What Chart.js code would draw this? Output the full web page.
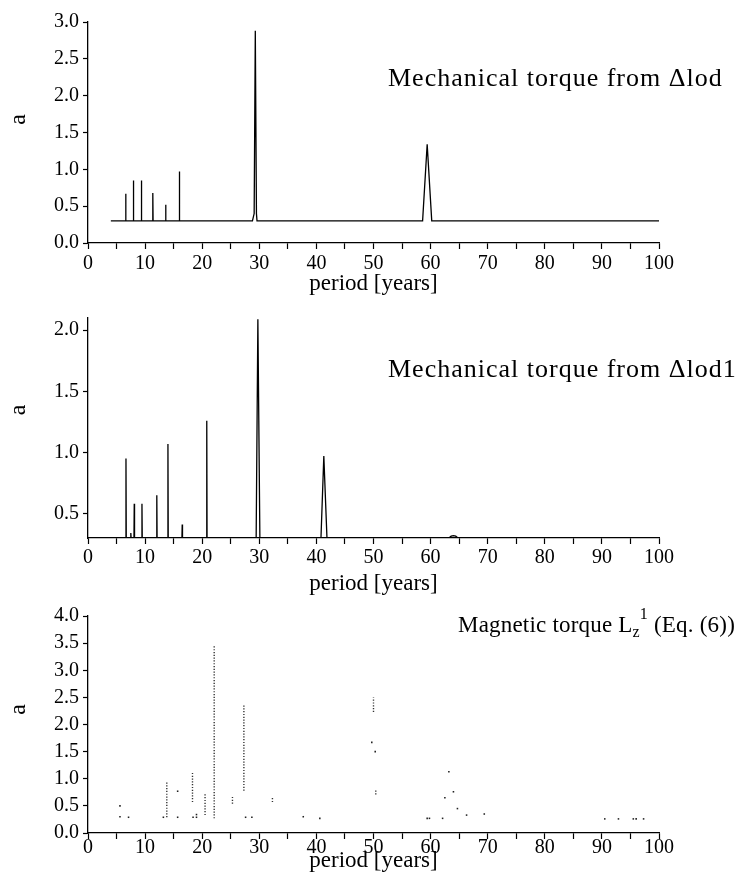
<!DOCTYPE html>
<html lang="en">
<head>
<meta charset="UTF-8">
<title>Torque spectra</title>
<style>
    body { margin: 0; background: #fff; }
    canvas { position: absolute; left: 0; }
    #p1 { top: 0; }
    #p2 { top: 300px; }
    #p3 { top: 600px; }
</style>
</head>
<body>
<canvas id="p1" width="737" height="300"></canvas>
<canvas id="p2" width="737" height="300"></canvas>
<canvas id="p3" width="737" height="288"></canvas>

<script src="https://cdn.jsdelivr.net/npm/chart.js@4"></script>
<script>
    // tick positions
    var xTicks = [0, 5, 10, 15, 20, 25, 30, 35, 40, 45, 50, 55, 60, 65, 70, 75, 80, 85, 90, 95, 100];
    var y1Ticks = [0, 0.5, 1, 1.5, 2, 2.5, 3];
    var y2Ticks = [0.5, 1, 1.5, 2];
    var y3Ticks = [0, 0.5, 1, 1.5, 2, 2.5, 3, 3.5, 4];

    // mechanical torque from Δlod
    var p1Period = [4.0, 6.55, 6.6, 6.65, 7.9, 7.95, 8.0, 9.3, 9.35, 9.4, 11.3, 11.35, 11.4,
        13.55, 13.6, 13.65, 15.95, 16.0, 16.05, 28.8, 29.1, 29.3, 29.5, 29.6, 58.6, 59.4, 60.2, 100];
    var p1Amp = [0.3, 0.3, 0.67, 0.3, 0.3, 0.85, 0.3, 0.3, 0.85, 0.3, 0.3, 0.68, 0.3,
        0.3, 0.52, 0.3, 0.3, 0.97, 0.3, 0.3, 0.4, 2.88, 0.4, 0.3, 0.3, 1.34, 0.3, 0.3];

    // mechanical torque from Δlod1
    var p2Period = [0, 6.6, 6.65, 6.7, 7.45, 7.5, 7.55, 8.05, 8.1, 8.15, 9.4, 9.45, 9.5,
        12.0, 12.05, 12.1, 13.95, 14.0, 14.05, 16.45, 16.5, 16.55, 20.75, 20.8, 20.85,
        29.45, 29.75, 30.1, 40.8, 41.3, 41.85, 63.2, 63.6, 64.0, 64.4, 64.8, 100];
    var p2Amp = [0.3, 0.3, 0.95, 0.3, 0.3, 0.34, 0.3, 0.3, 0.58, 0.3, 0.3, 0.58, 0.3,
        0.3, 0.65, 0.3, 0.3, 1.07, 0.3, 0.3, 0.41, 0.3, 0.3, 1.26, 0.3,
        0.3, 2.09, 0.3, 0.3, 0.97, 0.3, 0.3, 0.315, 0.32, 0.315, 0.3, 0.3];

    // magnetic torque: dotted columns (period, low, high) and single dots
    var colPeriod = [13.8, 18.3, 20.5, 22.1, 25.3, 27.3, 32.3, 50.0, 50.4];
    var colLow = [0.29, 0.57, 0.33, 0.27, 0.54, 0.78, 0.57, 2.23, 0.71];
    var colHigh = [0.93, 1.11, 0.73, 3.46, 0.67, 2.38, 0.66, 2.50, 0.79];
    var dotPeriod = [5.6, 5.6, 7.1, 13.2, 15.7, 15.7, 18.4, 19.0, 19.0, 27.6, 28.7, 37.7, 40.6,
        49.7, 50.3, 59.4, 59.8, 62.1, 62.5, 63.2, 64.0, 64.7, 66.3, 69.4, 90.5, 92.9, 95.5, 96.0, 97.3];
    var dotAmp = [0.50, 0.30, 0.29, 0.29, 0.77, 0.29, 0.29, 0.34, 0.29, 0.29, 0.29, 0.30, 0.27,
        1.67, 1.50, 0.27, 0.27, 0.27, 0.65, 1.13, 0.76, 0.45, 0.33, 0.35, 0.26, 0.26, 0.26, 0.26, 0.26];

    var SERIF = '"Liberation Serif", "Times New Roman", serif';

    function pairs(xs, ys) {
        return xs.map(function (x, i) { return {x: x, y: ys[i]}; });
    }

    var columnPts = [];
    colPeriod.forEach(function (p, i) {
        columnPts.push({x: p, y: colLow[i]}, {x: p, y: colHigh[i]}, {x: p, y: null});
    });

    // y title "a" and the panel label
    var panelText = {
        id: 'panelText',
        afterDraw: function (chart, args, opts) {
            var ctx = chart.ctx, a = chart.chartArea;
            ctx.save();
            ctx.fillStyle = '#000';
            ctx.font = '24px ' + SERIF;
            ctx.translate(19, (a.top + a.bottom) / 2 + opts.aShift);
            ctx.rotate(-Math.PI / 2);
            ctx.textAlign = 'center';
            ctx.textBaseline = 'middle';
            ctx.fillText('a', 0, 0);
            ctx.restore();

            ctx.save();
            ctx.fillStyle = '#000';
            ctx.textBaseline = 'alphabetic';
            ctx.letterSpacing = opts.spacing || '1px';
            var x = opts.x;
            opts.parts.forEach(function (p) {
                ctx.font = p.size + 'px ' + SERIF;
                ctx.fillText(p.text, x, opts.y + (p.dy || 0));
                x += ctx.measureText(p.text).width;
            });
            ctx.restore();
        }
    };

    function makeChart(id, datasets, yTicks, yMin, yMax, g) {
        return new Chart(document.getElementById(id), {
            type: 'line',
            data: {datasets: datasets},
            options: {
                responsive: false,
                animation: false,
                events: [],
                layout: {padding: {top: g.top, right: 78, bottom: 0, left: 0}},
                plugins: {
                    legend: {display: false},
                    tooltip: {enabled: false},
                    panelText: g.text
                },
                scales: {
                    x: {
                        type: 'linear', min: 0, max: 100,
                        afterBuildTicks: function (s) { s.ticks = xTicks.map(function (v) { return {value: v}; }); },
                        afterFit: function (s) { s.height = g.xh; },
                        ticks: {
                            autoSkip: false, maxRotation: 0, padding: g.tp, color: '#000',
                            font: {family: SERIF, size: 20},
                            callback: function (v) { return v % 10 === 0 ? String(v) : ''; }
                        },
                        grid: {drawOnChartArea: false, drawTicks: true, tickLength: 6, tickColor: '#000', tickWidth: 1.2},
                        border: {color: '#000', width: 1.3},
                        title: {
                            display: true, text: 'period [years]', color: '#000',
                            font: {family: SERIF, size: 23}, padding: {top: 0, bottom: g.tb}
                        }
                    },
                    y: {
                        type: 'linear', min: yMin, max: yMax,
                        afterBuildTicks: function (s) { s.ticks = yTicks.map(function (v) { return {value: v}; }); },
                        afterFit: function (s) { s.width = 88; },
                        ticks: {
                            padding: 4, color: '#000',
                            font: {family: SERIF, size: 20},
                            callback: function (v) { return Number(v).toFixed(1); }
                        },
                        grid: {drawOnChartArea: false, drawTicks: true, tickLength: 5, tickColor: '#000', tickWidth: 1.2},
                        border: {color: '#000', width: 1.3}
                    }
                }
            },
            plugins: [panelText]
        });
    }

    var lineStyle = {borderColor: '#000', borderWidth: 1.3, pointRadius: 0, tension: 0, fill: false};

    makeChart('p1', [Object.assign({data: pairs(p1Period, p1Amp)}, lineStyle)], y1Ticks, 0, 3, {
        top: 22, xh: 57, tb: 2, tp: 3,
        text: {aShift: -13, x: 388, y: 86, parts: [{text: 'Mechanical torque from \u0394lod', size: 26}]}
    });

    makeChart('p2', [Object.assign({data: pairs(p2Period, p2Amp)}, lineStyle)], y2Ticks, 0.3, 2.1, {
        top: 18, xh: 62, tb: 2, tp: 2,
        text: {aShift: -18, x: 388, y: 77, parts: [{text: 'Mechanical torque from \u0394lod1', size: 26}]}
    });

    makeChart('p3', [
        {data: columnPts, borderColor: '#333', borderWidth: 1.4, borderDash: [1.2, 1.6],
            pointRadius: 0, spanGaps: false, tension: 0, fill: false},
        {data: pairs(dotPeriod, dotAmp), showLine: false, pointRadius: 1.1, pointBorderWidth: 0,
            pointBackgroundColor: '#222', pointStyle: 'rect'}
    ], y3Ticks, 0, 4, {
        top: 12, xh: 55, tb: 13, tp: -3,
        text: {aShift: -15, x: 458, y: 32, spacing: '0.2px', parts: [
            {text: 'Magnetic torque L', size: 23},
            {text: 'z', size: 16, dy: 5},
            {text: '1', size: 16, dy: -13},
            {text: ' (Eq. (6))', size: 23}
        ]}
    });
</script>
</body>
</html>
